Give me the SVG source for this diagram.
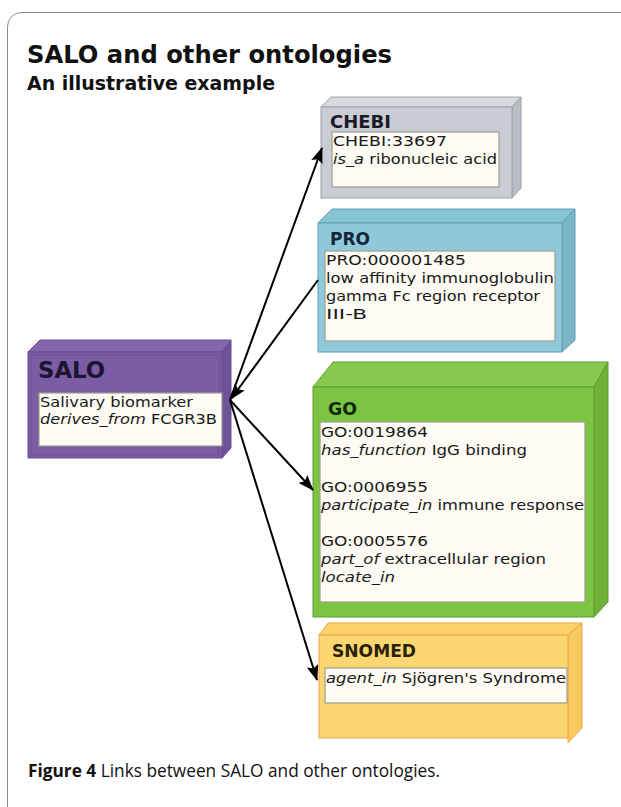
<svg xmlns="http://www.w3.org/2000/svg" width="621" height="807" viewBox="0 0 621 807">
<defs>
<style>
.t{font-family:"DejaVu Sans",Verdana,sans-serif;font-size:14.5px;fill:#1a1a1a}
.i{font-style:italic}
.lab{font-family:"DejaVu Sans",Verdana,sans-serif;font-size:17.5px;font-weight:bold}
.inner{fill:#fdfbf3;stroke:#9d9d8e;stroke-width:1.2}
.conn{stroke:#000;stroke-width:2;fill:none}
</style>
<marker id="ah" markerUnits="userSpaceOnUse" markerWidth="16" markerHeight="12" refX="15" refY="6" orient="auto">
<path d="M0,0 L16,6 L0,12 L3,6 Z" fill="#000"/>
</marker>
</defs>
<rect width="621" height="807" fill="#fff"/>
<rect x="7.5" y="12.5" width="660" height="820" rx="14" fill="none" stroke="#8a8a8a" stroke-width="1"/>
<text x="27" y="63" font-family="DejaVu Sans,Verdana,sans-serif" font-size="25" font-weight="bold" fill="#111" textLength="365" lengthAdjust="spacingAndGlyphs">SALO and other ontologies</text>
<text x="27" y="90" font-family="DejaVu Sans,Verdana,sans-serif" font-size="19" font-weight="bold" fill="#111" textLength="248" lengthAdjust="spacingAndGlyphs">An illustrative example</text>

<g id="chebi">
<polygon points="321,107 331,97 521,97 512,107" fill="#d6d9dd" stroke="#9aa1aa"/>
<polygon points="512,107 521,97 521,188 512,198" fill="#b9bec5" stroke="#9aa1aa"/>
<rect x="321" y="107" width="191" height="91" fill="#c9cdd3" stroke="#9aa1aa"/>
<text class="lab" x="330" y="128" fill="#1a1a28" textLength="61" lengthAdjust="spacingAndGlyphs">CHEBI</text>
<rect class="inner" x="332" y="132" width="167" height="55"/>
<text class="t" x="333" y="146" textLength="114" lengthAdjust="spacingAndGlyphs">CHEBI:33697</text>
<text class="t" x="333" y="164" textLength="164" lengthAdjust="spacingAndGlyphs"><tspan class="i">is_a</tspan> ribonucleic acid</text>
</g>

<g id="pro">
<polygon points="318,223 332,209 575,209 562,223" fill="#88c3d3" stroke="#5f9fb3"/>
<polygon points="562,223 575,209 575,340 562,352" fill="#7cb7c8" stroke="#5f9fb3"/>
<rect x="318" y="223" width="244" height="129" fill="#90c9d9" stroke="#5f9fb3"/>
<text class="lab" x="330" y="245" fill="#15263a" textLength="40" lengthAdjust="spacingAndGlyphs">PRO</text>
<rect class="inner" x="325" y="251" width="230" height="90"/>
<text class="t" x="326" y="265" textLength="140" lengthAdjust="spacingAndGlyphs">PRO:000001485</text>
<text class="t" x="326" y="283" textLength="228" lengthAdjust="spacingAndGlyphs">low affinity immunoglobulin</text>
<text class="t" x="326" y="301" textLength="214" lengthAdjust="spacingAndGlyphs">gamma Fc region receptor</text>
<text class="t" x="326" y="319" textLength="41" lengthAdjust="spacingAndGlyphs">III-B</text>
</g>

<g id="salo">
<polygon points="28,352 40,340 231,340 222,352" fill="#8466ae" stroke="#6a4d92"/>
<polygon points="222,352 231,340 231,448 222,458" fill="#6f5398" stroke="#6a4d92"/>
<rect x="28" y="352" width="194" height="106" fill="#7b5ca5" stroke="#6a4d92"/>
<rect x="31" y="355" width="188" height="100" fill="none" stroke="#6b4e95" stroke-width="1"/>
<text x="38" y="378" font-family="DejaVu Sans,Verdana,sans-serif" font-size="22.5" font-weight="bold" fill="#1d1530" textLength="67" lengthAdjust="spacingAndGlyphs">SALO</text>
<rect class="inner" x="39" y="393" width="183" height="53"/>
<text class="t" x="40" y="407" textLength="153" lengthAdjust="spacingAndGlyphs">Salivary biomarker</text>
<text class="t" x="40" y="424" textLength="177" lengthAdjust="spacingAndGlyphs"><tspan class="i">derives_from</tspan> FCGR3B</text>
</g>

<g id="go">
<polygon points="313,387 333,362 608,362 594,387" fill="#86c94d" stroke="#5d9d2e"/>
<polygon points="594,387 608,362 608,602 594,617" fill="#71b13a" stroke="#5d9d2e"/>
<rect x="313" y="387" width="281" height="230" fill="#7ec444" stroke="#5d9d2e"/>
<text class="lab" x="328" y="415" fill="#0f2a08" textLength="29" lengthAdjust="spacingAndGlyphs">GO</text>
<rect class="inner" x="320" y="422" width="265" height="180"/>
<text class="t" x="321" y="437" textLength="107" lengthAdjust="spacingAndGlyphs">GO:0019864</text>
<text class="t" x="321" y="455" textLength="206" lengthAdjust="spacingAndGlyphs"><tspan class="i">has_function</tspan> IgG binding</text>
<text class="t" x="321" y="492" textLength="107" lengthAdjust="spacingAndGlyphs">GO:0006955</text>
<text class="t" x="321" y="510" textLength="263" lengthAdjust="spacingAndGlyphs"><tspan class="i">participate_in</tspan> immune response</text>
<text class="t" x="321" y="546" textLength="107" lengthAdjust="spacingAndGlyphs">GO:0005576</text>
<text class="t" x="321" y="564" textLength="225" lengthAdjust="spacingAndGlyphs"><tspan class="i">part_of</tspan> extracellular region</text>
<text class="t i" x="321" y="582" textLength="74" lengthAdjust="spacingAndGlyphs">locate_in</text>
</g>

<g id="snomed">
<polygon points="319,635 328,623 582,623 568,635" fill="#fbd26a" stroke="#f2a650"/>
<polygon points="568,635 582,623 582,728 568,743" fill="#f7c95f" stroke="#f2a650"/>
<rect x="319" y="635" width="249" height="103" fill="#fcd671" stroke="#f2a650"/>
<text class="lab" x="332" y="657" fill="#2a2206" textLength="84" lengthAdjust="spacingAndGlyphs">SNOMED</text>
<rect class="inner" x="325" y="668" width="242" height="35"/>
<text class="t" x="326" y="683" textLength="240" lengthAdjust="spacingAndGlyphs"><tspan class="i">agent_in</tspan> Sjögren's Syndrome</text>
</g>

<g id="connectors">
<line class="conn" x1="230" y1="400" x2="322" y2="148" marker-end="url(#ah)"/>
<line class="conn" x1="318" y1="280" x2="231" y2="399" marker-end="url(#ah)"/>
<line class="conn" x1="230" y1="400" x2="313" y2="490" marker-end="url(#ah)"/>
<line class="conn" x1="230" y1="400" x2="317" y2="680" marker-end="url(#ah)"/>
</g>

<text x="28" y="777" font-family="'Open Sans','Liberation Sans',Arial,sans-serif" font-size="18" fill="#111" textLength="412" lengthAdjust="spacingAndGlyphs"><tspan font-weight="bold">Figure 4</tspan> Links between SALO and other ontologies.</text>
</svg>
